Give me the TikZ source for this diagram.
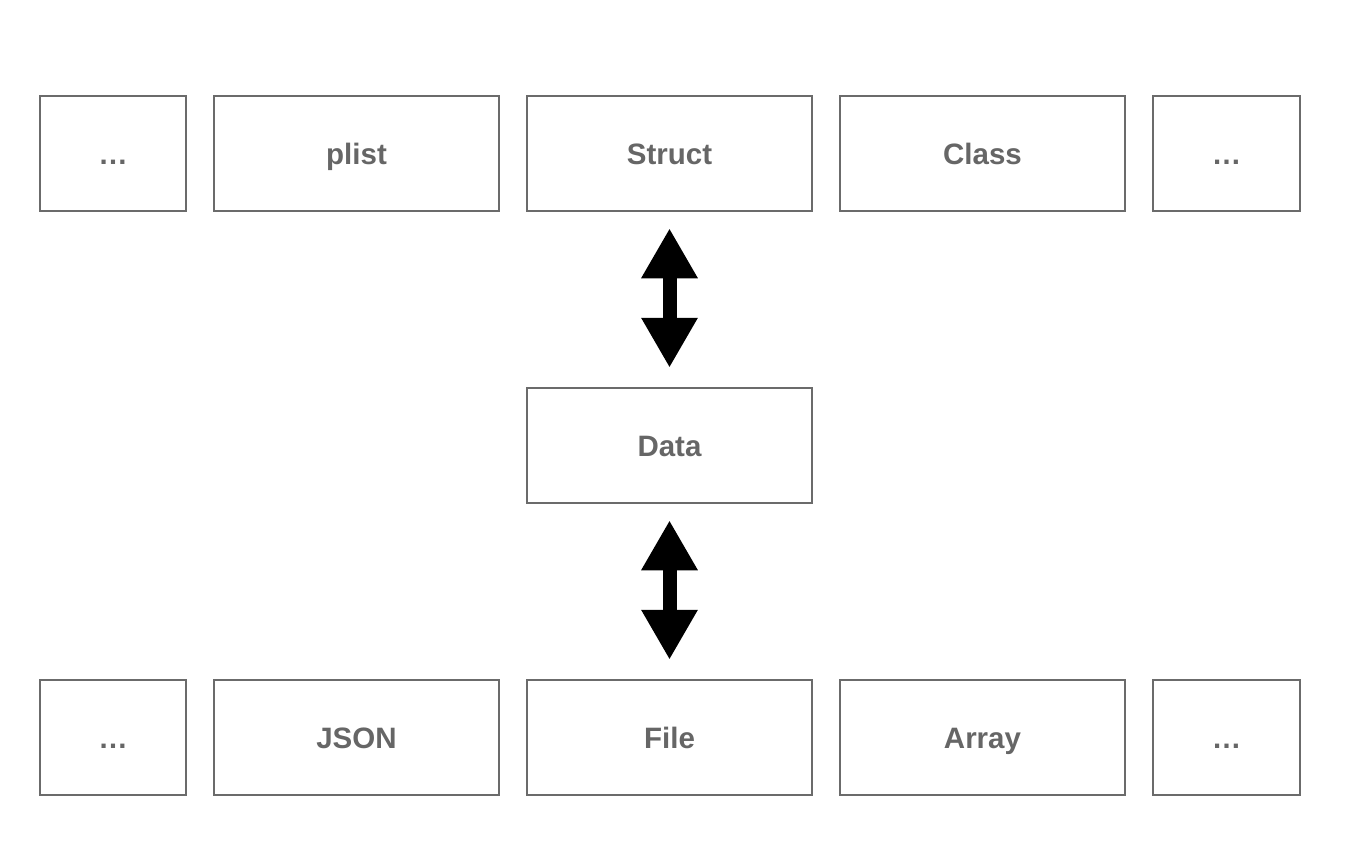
\documentclass[tikz,border=0pt]{standalone}
\usepackage{fontspec}
\setmainfont{Liberation Sans}
\usetikzlibrary{arrows.meta}
\definecolor{boxgray}{HTML}{6B6B6B}
\definecolor{textgray}{HTML}{666666}
\begin{document}
\begin{tikzpicture}
[x=1pt,y=-1pt,
  nodedecorate/.style={shape=rectangle,draw=boxgray,line width=2.5pt,
    minimum height=115pt,inner sep=0pt,text=textgray,
    font=\fontsize{29.5}{31}\selectfont\bfseries,
    text height=21pt,text depth=0pt},%
  linedecorate/.style={{Triangle[length=50pt,width=53pt]}-{Triangle[length=50pt,width=53pt]},
    line width=14pt,black,shorten <=16pt,shorten >=19pt}]
\useasboundingbox (0,0) rectangle (1352,854);
%% nodes or vertices
\foreach \nodename/\txt/\x/\y/\w in {topleft/…/113/153.5/146, plist/plist/356.5/153.5/285,
    Struct/Struct/669.5/153.5/285, Class/Class/982.5/153.5/285, topright/…/1226.5/153.5/147,
    Data/Data/669.5/445.5/285,
    botleft/…/113/737.5/146, JSON/JSON/356.5/737.5/285, File/File/669.5/737.5/285,
    Array/Array/982.5/737.5/285, botright/…/1226.5/737.5/147} {
  \node (\nodename) at (\x,\y) [nodedecorate,minimum width=\w pt] {\txt};
}
%% edges or lines
\path
(Struct) edge[linedecorate] (Data)
(Data) edge[linedecorate] (File);
\end{tikzpicture}
\end{document}
